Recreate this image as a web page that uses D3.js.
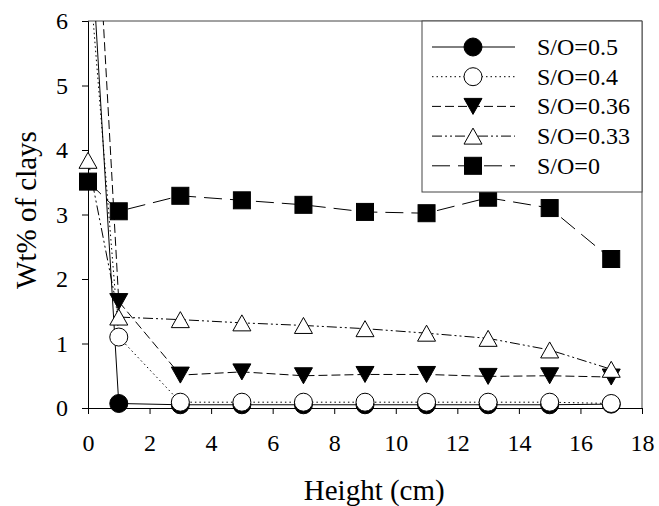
<!DOCTYPE html>
<html>
<head>
<meta charset="utf-8">
<script src="https://cdn.jsdelivr.net/npm/d3@7/dist/d3.min.js"></script>
<style>
  html, body { margin: 0; padding: 0; background: #fff; }
  svg { display: block; }
  svg text { font-family: "Liberation Serif", "Times New Roman", Times, "DejaVu Serif", serif; fill: #000; }
</style>
</head>
<body>
<svg id="chart" width="659" height="506"></svg>
<script>
// Sampling heights (cm)
const heights = [0, 1, 3, 5, 7, 9, 11, 13, 15, 17];

// Clay content (wt%) for each S/O ratio
const so05  = [8.0, 0.07, 0.05, 0.05, 0.05, 0.05, 0.05, 0.05, 0.05, 0.06];
const so04  = [7.0, 1.10, 0.09, 0.09, 0.09, 0.09, 0.09, 0.09, 0.09, 0.07];
const so036 = [10.3, 1.65, 0.51, 0.56, 0.50, 0.52, 0.52, 0.49, 0.50, 0.48];
const so033 = [3.84, 1.41, 1.37, 1.32, 1.28, 1.23, 1.16, 1.08, 0.90, 0.60];
const so0   = [3.51, 3.05, 3.29, 3.22, 3.15, 3.04, 3.02, 3.26, 3.10, 2.31];

const seriesLabels = ["S/O=0.5", "S/O=0.4", "S/O=0.36", "S/O=0.33", "S/O=0"];

const xTicks = [0, 2, 4, 6, 8, 10, 12, 14, 16, 18];
const yTicks = [0, 1, 2, 3, 4, 5, 6];

const xTitle = "Height (cm)";
const yTitle = "Wt% of clays";

const FONT = '"Liberation Serif", "Times New Roman", Times, "DejaVu Serif", serif';

// Per-series styling
const styles = [
  { marker: "circle",   fill: "#000", dash: null },
  { marker: "circle",   fill: "#fff", dash: "1.5,3" },
  { marker: "triDown",  fill: "#000", dash: "9,4" },
  { marker: "triUp",    fill: "#fff", dash: "10,3,2,3,2,3" },
  { marker: "square",   fill: "#000", dash: "18,8" }
];
const seriesValues = [so05, so04, so036, so033, so0];

const series = seriesLabels.map((label, i) => ({
  label,
  style: styles[i],
  points: heights.map((h, j) => ({ x: h, y: seriesValues[i][j] }))
}));

const W = 659, H = 506;
const margin = { top: 21, right: 17, bottom: 98, left: 88 };
const innerW = W - margin.left - margin.right;
const innerH = H - margin.top - margin.bottom;

const svg = d3.select("#chart");
const g = svg.append("g").attr("transform", `translate(${margin.left},${margin.top})`);

const x = d3.scaleLinear().domain([0, 18]).range([0, innerW]);
const y = d3.scaleLinear().domain([0, 6]).range([innerH, 0]);

// Plot-area frame (top and right edges)
g.append("path")
  .attr("d", `M0,0H${innerW}V${innerH}`)
  .attr("fill", "none")
  .attr("stroke", "#444")
  .attr("stroke-width", 1);

// Axes
const yAxis = g.append("g")
  .call(d3.axisLeft(y).tickValues(yTicks).tickFormat(d3.format("d")).tickSize(6).tickPadding(14));
const xAxis = g.append("g")
  .attr("transform", `translate(0,${innerH})`)
  .call(d3.axisBottom(x).tickValues(xTicks).tickFormat(d3.format("d")).tickSize(6));

[xAxis, yAxis].forEach(a => {
  a.attr("font-family", FONT).attr("font-size", 24);
  a.select(".domain").attr("stroke", "#000").attr("stroke-width", 1);
  a.selectAll(".tick line").attr("stroke", "#000");
  a.selectAll("text").attr("fill", "#000");
});
xAxis.selectAll("text").attr("y", 43).attr("dy", 0);
yAxis.selectAll("text").attr("dy", "0.33em");

// Clip lines to the plot area
svg.append("defs").append("clipPath").attr("id", "plotClip")
  .append("rect").attr("x", 0).attr("y", 0).attr("width", innerW).attr("height", innerH + 20);

// Marker shapes
const triH = 16, triW = 18, sq = 17, cr = 9;
function drawMarker(sel, type, fill) {
  if (type === "circle") {
    sel.append("circle").attr("r", cr);
  } else if (type === "square") {
    sel.append("rect").attr("x", -sq / 2).attr("y", -sq / 2).attr("width", sq).attr("height", sq);
  } else if (type === "triUp") {
    sel.append("path").attr("d", `M0,${-triH / 2}L${triW / 2},${triH / 2}L${-triW / 2},${triH / 2}Z`);
  } else if (type === "triDown") {
    sel.append("path").attr("d", `M0,${triH / 2}L${triW / 2},${-triH / 2}L${-triW / 2},${-triH / 2}Z`);
  }
  sel.selectAll("circle,rect,path")
    .attr("fill", fill)
    .attr("stroke", "#000")
    .attr("stroke-width", 1);
}

const line = d3.line().x(d => x(d.x)).y(d => y(d.y));

series.forEach(s => {
  const sg = g.append("g");
  sg.append("path")
    .datum(s.points)
    .attr("clip-path", "url(#plotClip)")
    .attr("d", line)
    .attr("fill", "none")
    .attr("stroke", "#000")
    .attr("stroke-width", 1)
    .attr("stroke-dasharray", s.style.dash);

  sg.selectAll("g.pt")
    .data(s.points.filter(p => p.y <= 6))
    .join("g")
    .attr("class", "pt")
    .attr("transform", d => `translate(${x(d.x)},${y(d.y)})`)
    .each(function () { drawMarker(d3.select(this), s.style.marker, s.style.fill); });
});

// Legend
const legend = svg.append("g").attr("transform", "translate(422,21)");
legend.append("rect")
  .attr("width", 220).attr("height", 171)
  .attr("fill", "#fff").attr("stroke", "#444").attr("stroke-width", 1);

series.forEach((s, i) => {
  const ly = 26 + i * 29.7;
  const row = legend.append("g").attr("transform", `translate(0,${ly})`);
  row.append("line")
    .attr("x1", 10).attr("x2", 93).attr("y1", 0).attr("y2", 0)
    .attr("stroke", "#000").attr("stroke-width", 1)
    .attr("stroke-dasharray", s.style.dash);
  const m = row.append("g").attr("transform", "translate(51,0)");
  drawMarker(m, s.style.marker, s.style.fill);
  row.append("text")
    .attr("x", 115).attr("y", 0).attr("dy", "0.33em")
    .attr("font-family", FONT)
    .attr("font-size", 24)
    .text(s.label);
});

// Axis titles
svg.append("text")
  .attr("x", margin.left + x(9.3)).attr("y", 500)
  .attr("text-anchor", "middle")
  .attr("font-family", FONT)
  .attr("font-size", 29)
  .text(xTitle);

svg.append("text")
  .attr("transform", "translate(36,210) rotate(-90)")
  .attr("text-anchor", "middle")
  .attr("font-family", FONT)
  .attr("font-size", 29)
  .text(yTitle);
</script>
</body>
</html>
